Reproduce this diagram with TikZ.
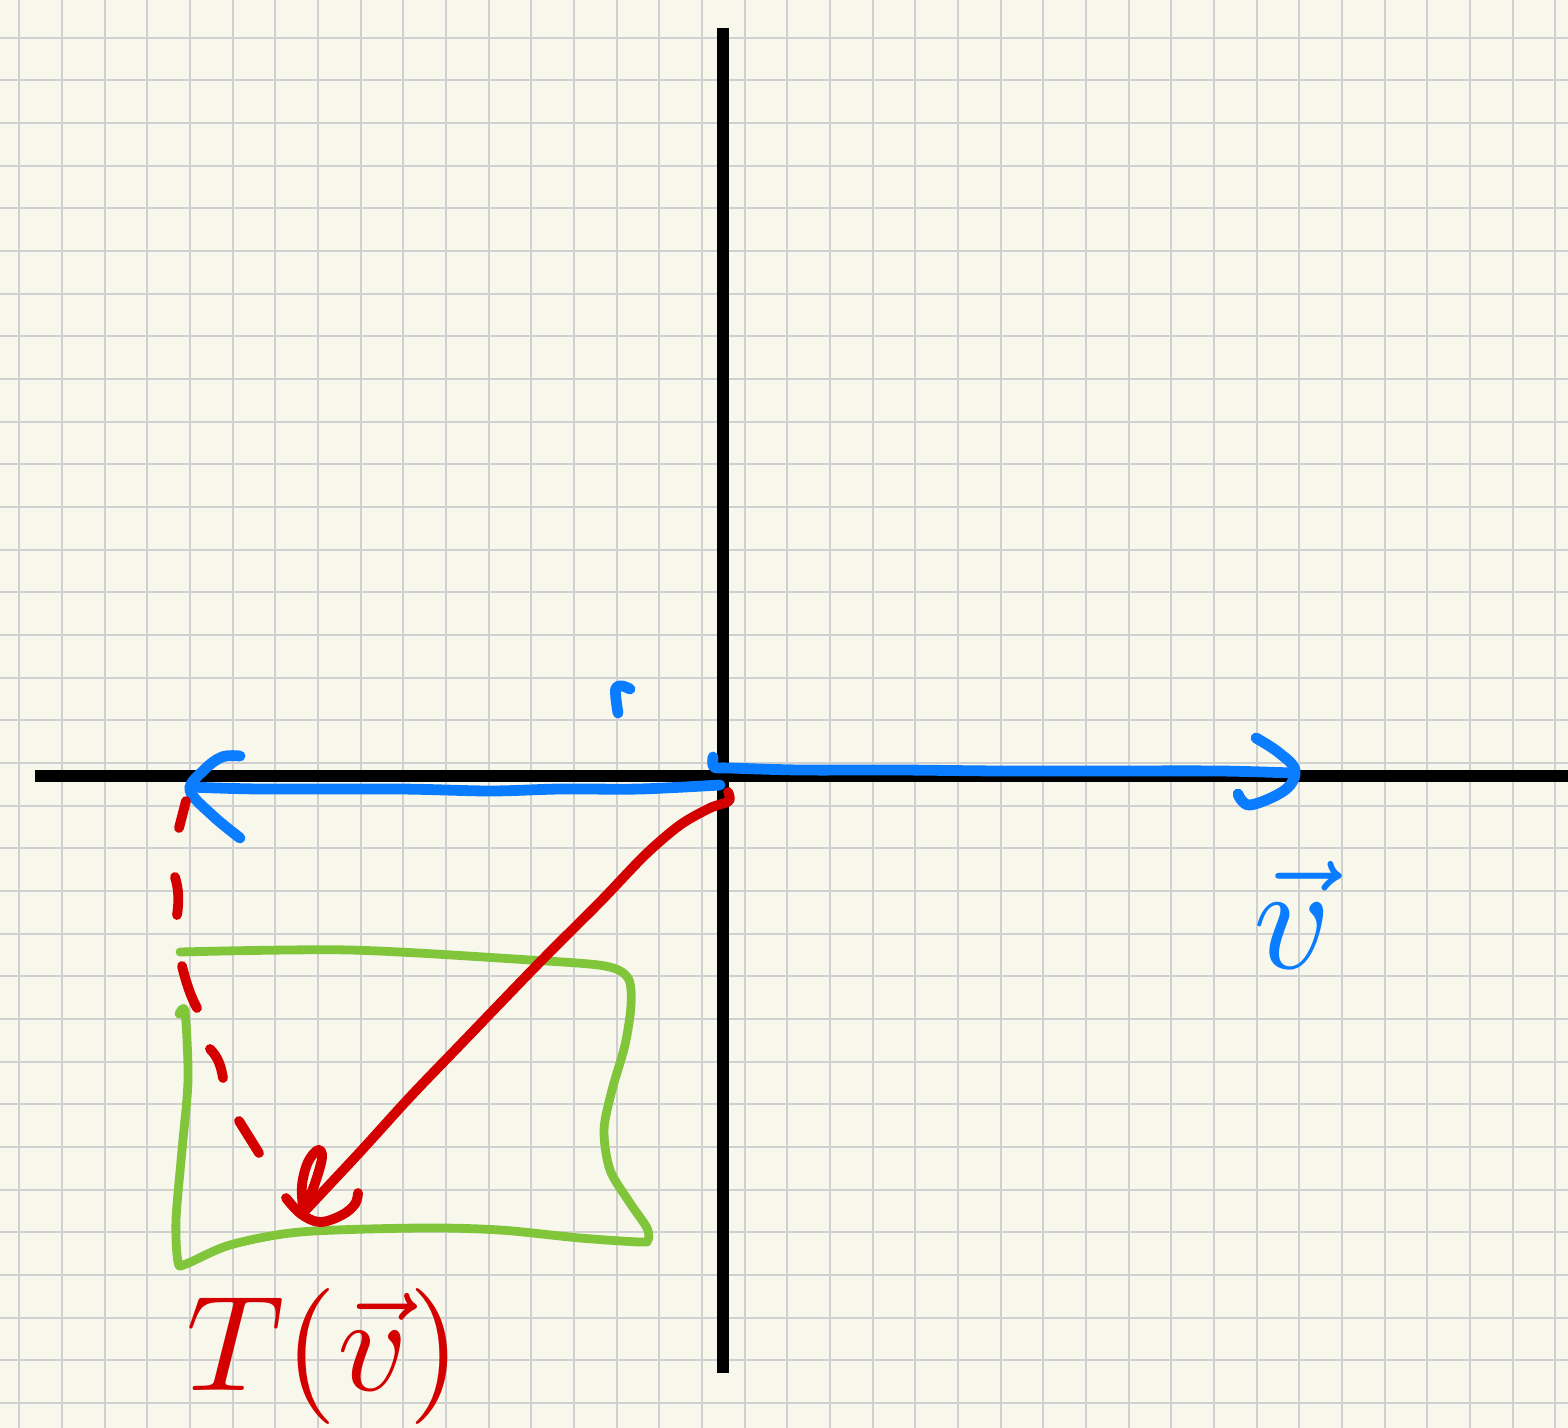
\documentclass[tikz,border=0pt]{standalone}
\usepackage{amsmath}
\definecolor{paper}{HTML}{F8F7EB}
\definecolor{gridc}{HTML}{D0D0D0}
\definecolor{pblue}{HTML}{0A7CFF}
\definecolor{pred}{HTML}{D40000}
\definecolor{pgreen}{HTML}{80C53A}
\tikzset{
  gridline/.style={gridc, line width=1pt},
  axis/.style={black, line width=5.8pt},
  bluestroke/.style={pblue, line width=5.4pt, line cap=round, line join=round},
  redstroke/.style={pred, line width=4.9pt, line cap=round, line join=round},
  greenstroke/.style={pgreen, line width=4.4pt, line cap=round, line join=round},
}
\begin{document}
\begin{tikzpicture}[x=0.5pt,y=-0.5pt]
\fill[paper] (0,0) rectangle (1568,1428);
\useasboundingbox (0,0) rectangle (1568,1428);
% grid
\foreach \k in {0,...,36} {
  \draw[gridline] ({19.3+42.67*\k},0) -- ({19.3+42.67*\k},1428);
}
\foreach \k in {0,...,32} {
  \draw[gridline] (0,{37.7+42.67*\k}) -- (1568,{37.7+42.67*\k});
}
% axes
\coordinate (xl) at (35,776);
\coordinate (xr) at (1568,776);
\coordinate (yt) at (723,28);
\coordinate (yb) at (723,1373);
\draw[axis] (xl) -- (xr);
\draw[axis] (yt) -- (yb);

% green region
\draw[greenstroke] plot[smooth, tension=0.5] coordinates {
  (180,952) (350,950) (530,960) (605,966) (628,978) (631,1005) (625,1045)
  (612,1090) (604,1130) (610,1170) (630,1203) (647,1228) (648,1240) (640,1242)
  (580,1238) (500,1230) (420,1228) (300,1232) (230,1245) (186,1264) (178,1262)
  (176,1220) (182,1150) (188,1080) (185,1012) (179,1014)};

% blue vectors
\draw[bluestroke] plot[smooth, tension=0.5] coordinates {
  (720,785) (640,789) (560,789) (490,791) (400,789) (260,789) (190,787)};
\draw[bluestroke] plot[smooth, tension=0.6] coordinates {
  (240,756) (222,757) (204,770) (190,790) (212,815) (240,838)};
\draw[bluestroke] plot[smooth, tension=0.5] coordinates {
  (713,757) (714,767) (730,768) (800,770) (900,770) (1000,771) (1100,771) (1220,771) (1292,773)};
\draw[bluestroke] plot[smooth, tension=0.6] coordinates {
  (1256,738) (1278,752) (1295,770) (1285,790) (1250,805) (1238,794)};
\draw[bluestroke] plot[smooth, tension=0.6] coordinates {
  (618,713) (616,699) (616,688) (622,686) (630,689)};

% red vector T(v)
\draw[redstroke] plot[smooth, tension=0.5] coordinates {
  (728,792) (729,801) (710,808) (680,825) (645,855) (600,902) (540,962)
  (460,1045) (410,1097) (360,1152) (302,1214)};
\draw[redstroke] plot[smooth, tension=0.6] coordinates {
  (286,1198) (301,1214) (320,1222) (342,1215) (355,1204) (358,1193)};
\draw[redstroke] plot[smooth, tension=0.6] coordinates {
  (303,1208) (302,1185) (308,1162) (318,1150) (322,1158) (314,1186) (305,1206)};
% red dashes
\draw[redstroke] (186,801) -- (179,828);
\draw[redstroke] (175,877) .. controls (179,890) and (179,902) .. (177,915);
\draw[redstroke] (182,966) .. controls (186,982) and (190,995) .. (197,1008);
\draw[redstroke] (210,1049) .. controls (218,1057) and (221,1066) .. (223,1078);
\draw[redstroke] (239,1121) -- (259,1153);

% labels
\node[pred, scale=6.8] (tv) at (324,1356) {$T(\vec{v})$};
\node[pblue, scale=7.5] (v) at (1293,915) {$\vec{v}$};
\end{tikzpicture}
\end{document}
